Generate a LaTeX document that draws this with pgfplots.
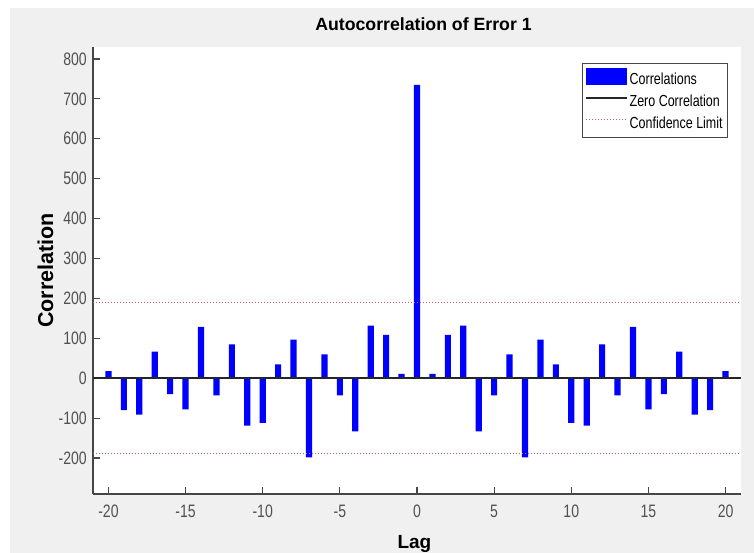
\documentclass[border=0pt]{standalone}
\usepackage{pgfplots}
\pgfplotsset{compat=1.18}
\usepackage{fontspec}
\setmainfont{Liberation Sans}
\newfontfamily\narrowfont{Liberation Sans}[FakeStretch=0.78]
\definecolor{figgray}{RGB}{240,240,240}
\definecolor{axgray}{RGB}{70,70,70}
\definecolor{txtgray}{RGB}{80,80,80}
\definecolor{conf}{RGB}{195,95,95}
\definecolor{barblue}{RGB}{0,0,255}

\pgfplotstableread{
lag val
-20 18
-19 -80
-18 -91
-17 67
-16 -40
-15 -78
-14 129
-13 -43
-12 85
-11 -119
-10 -112
-9 35
-8 97
-7 -198
-6 60
-5 -43
-4 -133
-3 132
-2 109
-1 11
0 735
1 11
2 109
3 132
4 -133
5 -43
6 60
7 -198
8 97
9 35
10 -112
11 -119
12 85
13 -43
14 129
15 -78
16 -40
17 67
18 -91
19 -80
20 18
}\acftable

\begin{document}
\begin{tikzpicture}
\fill[white] (0pt,0pt) rectangle (754pt,553pt);
\fill[figgray] (10pt,0pt) rectangle (754pt,545pt);
\begin{axis}[
  at={(93pt,59pt)}, anchor=south west,
  scale only axis, width=648pt, height=447pt,
  xmin=-21, xmax=21, ymin=-290, ymax=830,
  axis x line*=bottom, axis y line*=left,
  axis line style={axgray, line width=1.3pt},
  axis background/.style={fill=white},
  tick align=inside, major tick length=7pt,
  tick style={axgray, line width=1.2pt},
  xtick={-20,-15,...,20}, ytick={-200,-100,...,800},
  /pgf/number format/assume math mode=true,
  ticklabel style={font=\narrowfont\fontsize{18}{20}\selectfont, text=txtgray},
  xticklabel style={anchor=north, inner sep=0pt, yshift=-11pt},
  yticklabel style={anchor=east, inner sep=0pt, xshift=-6pt},
  title={Autocorrelation of Error 1},
  title style={font=\bfseries\fontsize{17.7}{20}\selectfont, at={(axis description cs:0.51,1.0224)}, anchor=base, inner sep=0pt},
  xlabel={Lag}, ylabel={Correlation},
  xlabel style={font=\bfseries\fontsize{19}{22}\selectfont, at={(axis description cs:0.496,-0.121)}, anchor=base, inner sep=0pt},
  ylabel style={font=\bfseries\fontsize{21.5}{24}\selectfont, at={(axis description cs:-0.0617,0.5)}, anchor=base, inner sep=0pt},
  legend cell align=left,
  legend style={at={(axis description cs:0.7546,0.9642)}, anchor=north west,
    draw=axgray, line width=0.8pt, fill=white,
    font=\narrowfont\fontsize{16}{18}\selectfont,
    inner xsep=3pt, inner ysep=4.5pt, row sep=6pt,
    nodes={inner xsep=2pt, inner ysep=0pt, text height=12pt, text depth=4pt}},
]
\addplot[ybar, bar width=0.4, fill=barblue, draw=none,
  legend image code/.code={\fill[barblue] (0pt,-4pt) rectangle (41pt,13pt);}]
  table[x=lag, y=val] {\acftable};
\addlegendentry{Correlations}
\addplot[black!85, line width=1.8pt,
  legend image code/.code={\draw[black!85, line width=1.3pt] (0pt,5pt) -- (41pt,5pt);}]
  coordinates {(-21,0) (21,0)};
\addlegendentry{Zero Correlation}
\addplot[conf, line width=1.2pt, dash pattern=on 1pt off 2pt,
  legend image code/.code={\draw[conf, line width=1pt, dash pattern=on 1pt off 2pt] (0pt,5pt) -- (41pt,5pt);}]
  coordinates {(-21,189) (21,189)};
\addlegendentry{Confidence Limit}
\addplot[conf, line width=1.2pt, dash pattern=on 1pt off 2pt, forget plot]
  coordinates {(-21,-189) (21,-189)};
\end{axis}
\pgfresetboundingbox
\useasboundingbox (0pt,0pt) rectangle (754pt,553pt);
\end{tikzpicture}
\end{document}
